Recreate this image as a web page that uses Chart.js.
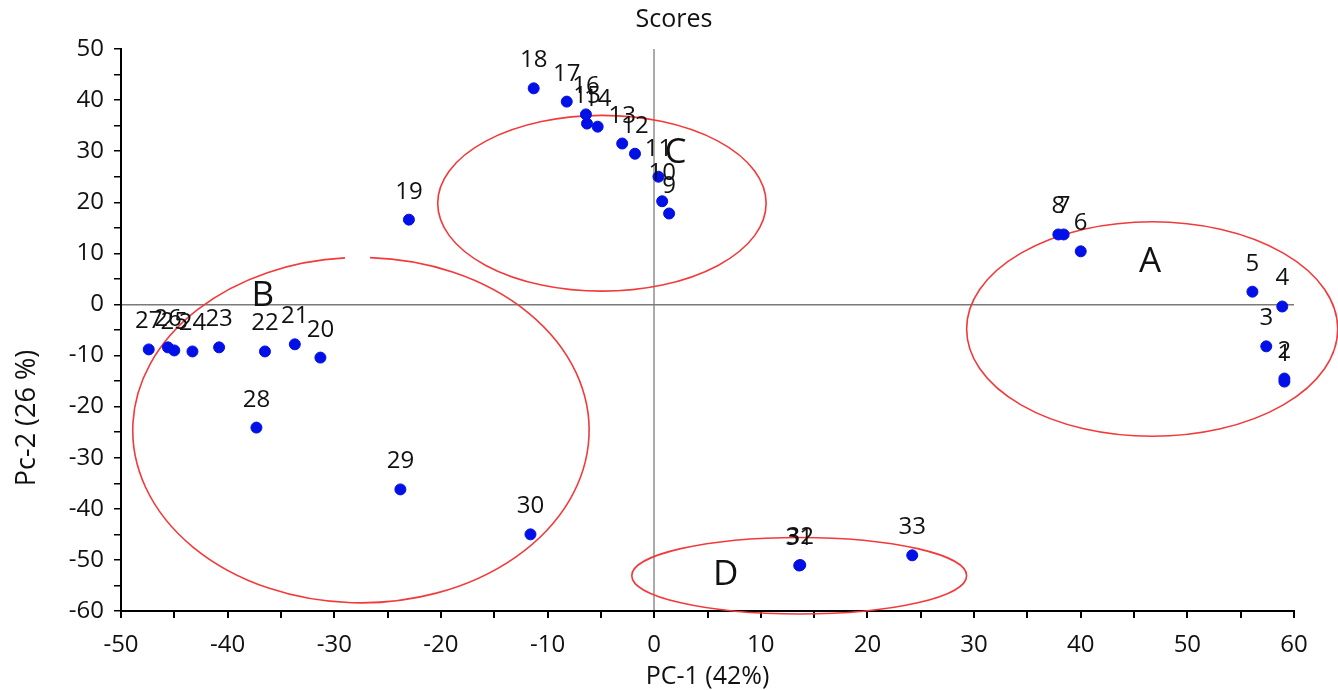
<!DOCTYPE html>
<html>
<head>
<meta charset="utf-8">
<style>
  html, body { margin: 0; padding: 0; background: #fff; }
  #wrap { width: 1338px; height: 690px; }
</style>
</head>
<body>
<div id="wrap"><canvas id="scoreChart" width="1338" height="690"></canvas></div>

<script src="https://cdn.jsdelivr.net/npm/chart.js"></script>

<script>
    // sample scores
    const sampleIds = ['1', '2', '3', '4', '5', '6', '7', '8', '9', '10', '11', '12', '13', '14', '15', '16', '17',
        '18', '19', '20', '21', '22', '23', '24', '25', '26', '27', '28', '29', '30', '31', '32', '33'];
    const pc1 = [59.1, 59.1, 57.4, 58.9, 56.1, 40.0, 38.4, 37.9, 1.4, 0.75, 0.4, -1.8, -3.0, -5.3, -6.3, -6.4, -8.2,
        -11.3, -23.0, -31.3, -33.7, -36.5, -40.8, -43.3, -45.0, -45.6, -47.4, -37.3, -23.8, -11.6, 13.6, 13.7, 24.2];
    const pc2 = [-15.1, -14.5, -8.2, -0.4, 2.5, 10.4, 13.7, 13.7, 17.8, 20.2, 25.0, 29.5, 31.5, 34.8, 35.4, 37.2, 39.7,
        42.3, 16.6, -10.4, -7.8, -9.2, -8.4, -9.2, -9.0, -8.4, -8.8, -24.1, -36.2, -45.0, -51.1, -51.0, -49.1];

    const xTickLabels = [-50, -40, -30, -20, -10, 0, 10, 20, 30, 40, 50, 60];
    const yTickLabels = [50, 40, 30, 20, 10, 0, -10, -20, -30, -40, -50, -60];

    // cluster ellipses (data units) and their letters
    const groupNames = ['A', 'B', 'C', 'D'];
    const groupLetterX = [46.5, -36.7, 2.0, 6.7];
    const groupLetterY = [8.4, 1.6, 29.7, -53.0];
    const ellipseCx = [46.7, -27.5, -4.9, 13.6];
    const ellipseCy = [-4.8, -24.6, 19.8, -53.1];
    const ellipseRx = [17.4, 21.4, 15.4, 15.7];
    const ellipseRy = [21.0, 33.8, 17.2, 7.5];

    const points = pc1.map(function (v, i) {
        return { x: v, y: pc2[i] };
    });

    const txt = '#111';

    const overlay = {
        id: 'overlay',
        beforeDatasetsDraw(chart) {
            const ctx = chart.ctx;
            const x = chart.scales.x, y = chart.scales.y;
            ctx.save();
            ctx.strokeStyle = '#f23a3a';
            ctx.lineWidth = 1.6;
            for (let i = 0; i < groupNames.length; i++) {
                const cx = x.getPixelForValue(ellipseCx[i]);
                const cy = y.getPixelForValue(ellipseCy[i]);
                const rx = Math.abs(x.getPixelForValue(ellipseCx[i] + ellipseRx[i]) - cx);
                const ry = Math.abs(y.getPixelForValue(ellipseCy[i] + ellipseRy[i]) - cy);
                ctx.beginPath();
                if (groupNames[i] === 'B') {
                    // small break at the top, as in the original
                    ctx.ellipse(cx, cy, rx, ry, 0, -Math.PI / 2 + 0.04, Math.PI * 1.5 - 0.07);
                } else {
                    ctx.ellipse(cx, cy, rx, ry, 0, 0, Math.PI * 2);
                }
                ctx.stroke();
            }
            ctx.fillStyle = txt;
            ctx.font = '35px "Open Sans"';
            ctx.textAlign = 'center';
            ctx.textBaseline = 'middle';
            for (let i = 0; i < groupNames.length; i++) {
                ctx.fillText(groupNames[i], x.getPixelForValue(groupLetterX[i]), y.getPixelForValue(groupLetterY[i]));
            }
            ctx.restore();
        },
        afterDatasetsDraw(chart) {
            const ctx = chart.ctx;
            const meta = chart.getDatasetMeta(0);
            ctx.save();
            ctx.fillStyle = txt;
            ctx.font = '24px "Open Sans"';
            ctx.textAlign = 'center';
            ctx.textBaseline = 'alphabetic';
            meta.data.forEach(function (pt, i) {
                ctx.fillText(sampleIds[i], pt.x, pt.y - 21);
            });
            // chart title, sits a bit left of the plot centre
            ctx.font = '25px "Open Sans"';
            ctx.textBaseline = 'middle';
            ctx.fillText('Scores', 674, 20);
            // y axis title
            ctx.font = '27px "Open Sans"';
            ctx.translate(27, 418);
            ctx.rotate(-Math.PI / 2);
            ctx.fillText('Pc-2 (26 %)', 0, 0);
            ctx.restore();
        }
    };

    const ctx = document.getElementById('scoreChart');

    new Chart(ctx, {
        type: 'scatter',
        data: {
            datasets: [{
                label: 'Scores',
                data: points,
                backgroundColor: '#0010e6',
                borderColor: '#0010e6',
                pointRadius: 5.5,
                pointHoverRadius: 5.5
            }]
        },
        options: {
            responsive: false,
            animation: false,
            layout: { padding: { left: 0, right: 44, top: 49, bottom: 0 } },
            plugins: {
                legend: { display: false },
                tooltip: { enabled: false },
                title: { display: false }
            },
            scales: {
                x: {
                    type: 'linear',
                    min: xTickLabels[0],
                    max: xTickLabels[xTickLabels.length - 1],
                    afterFit: function (s) { s.height = 79; },
                    border: { color: '#000', width: 2 },
                    grid: {
                        drawOnChartArea: true,
                        color: function (c) { return c.tick && c.tick.value === 0 ? '#ababab' : 'rgba(0,0,0,0)'; },
                        lineWidth: 2,
                        tickColor: '#000',
                        tickLength: 7
                    },
                    ticks: {
                        stepSize: 5,
                        autoSkip: false,
                        maxRotation: 0,
                        padding: 13,
                        color: txt,
                        font: { family: 'Open Sans', size: 24 },
                        callback: function (v) { return xTickLabels.includes(v) ? String(v) : ''; }
                    },
                    title: {
                        display: true,
                        text: 'PC-1 (42%)',
                        color: txt,
                        font: { family: 'Open Sans', size: 25 },
                        padding: { top: 0, bottom: -2 }
                    }
                },
                y: {
                    type: 'linear',
                    min: yTickLabels[yTickLabels.length - 1],
                    max: yTickLabels[0],
                    afterFit: function (s) { s.width = 121; },
                    border: { color: '#000', width: 2 },
                    grid: {
                        drawOnChartArea: true,
                        color: function (c) { return c.tick && c.tick.value === 0 ? '#7a7a7a' : 'rgba(0,0,0,0)'; },
                        lineWidth: 1.5,
                        tickColor: '#000',
                        tickLength: 7
                    },
                    ticks: {
                        stepSize: 5,
                        autoSkip: false,
                        padding: 10,
                        color: txt,
                        font: { family: 'Open Sans', size: 24 },
                        callback: function (v) { return yTickLabels.includes(v) ? String(v) : ''; }
                    }
                }
            }
        },
        plugins: [overlay]
    });
</script>
</body>
</html>
